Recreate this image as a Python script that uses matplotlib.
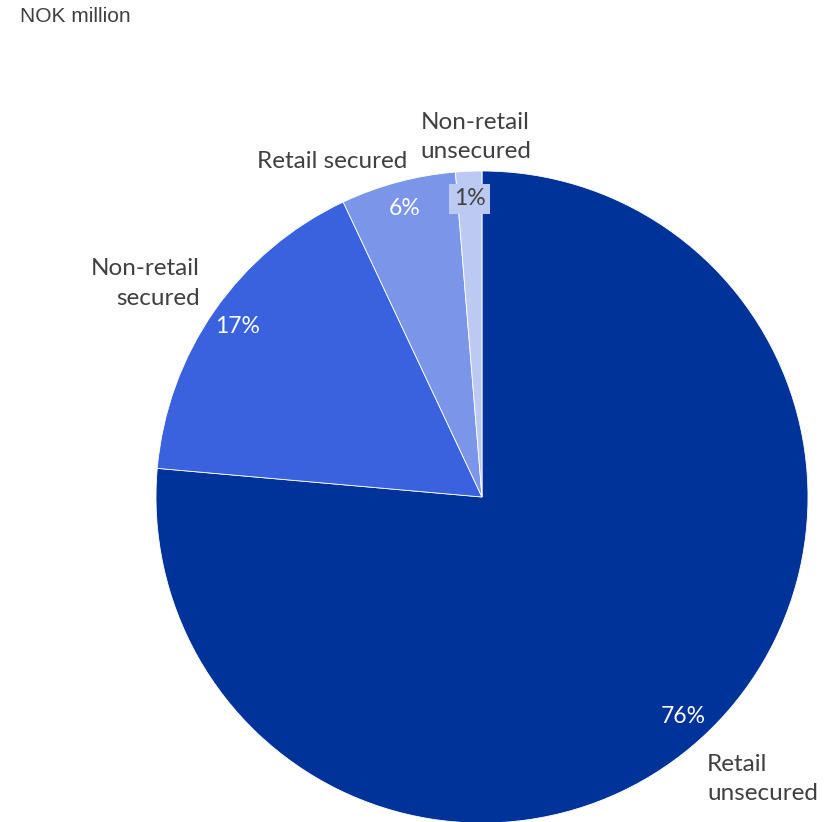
# Share of exposures by segment, pie chart

import numpy as np
import matplotlib.pyplot as plt

segments = ['Retail\nunsecured', 'Non-retail\nsecured', 'Retail secured', 'Non-retail\nunsecured']
shares = [76.4, 16.6, 5.7, 1.3]
pct_labels = ['76%', '17%', '6%', '1%']
colors = ['#003399', '#3a62de', '#7b96e8', '#bccaf3']
pct_colors = ['white', 'white', 'white', '#404040']

# label anchors (x, y in pie units) and alignment for the category names
label_pos = [(0.69, -0.865), (-0.865, 0.655), (-0.46, 1.03), (-0.02, 1.105)]
label_ha = ['left', 'right', 'center', 'center']

W, H = 833, 822
cx, cy, r = 482, 497, 326

fig = plt.figure(figsize=(W / 100, H / 100), dpi=100)
ax = fig.add_axes([(cx - r) / W, (H - cy - r) / H, 2 * r / W, 2 * r / H])

font = ['Lato', 'DejaVu Sans']

wedges, _ = ax.pie(shares, colors=colors, startangle=90, counterclock=False,
                   radius=1, center=(0, 0), frame=False,
                   wedgeprops=dict(linewidth=0.6, edgecolor='white'))
ax.set_xlim(-1, 1)
ax.set_ylim(-1, 1)
ax.set_aspect('auto')
ax.axis('off')

# percentages inside the slices
for i, w in enumerate(wedges):
    mid = np.deg2rad((w.theta1 + w.theta2) / 2)
    x, y = 0.915 * np.cos(mid), 0.915 * np.sin(mid)
    kw = dict(ha='center', va='center', fontsize=16.5, color=pct_colors[i], family=font)
    if i == 3:
        kw['bbox'] = dict(boxstyle='square,pad=0.2', fc=colors[i], ec='none')
    ax.text(x, y, pct_labels[i], **kw)

# category names outside
for i, name in enumerate(segments):
    x, y = label_pos[i]
    ax.text(x, y, name, ha=label_ha[i], va='center', multialignment=label_ha[i],
            fontsize=17.5, color='#404040', family=font, linespacing=1.5,
            clip_on=False)

fig.text(20 / W, 1 - 16 / H, 'NOK million', ha='left', va='center',
         fontsize=15, color='#404040', family=['Liberation Sans', 'DejaVu Sans'])

fig.savefig('out.png', dpi=100)
